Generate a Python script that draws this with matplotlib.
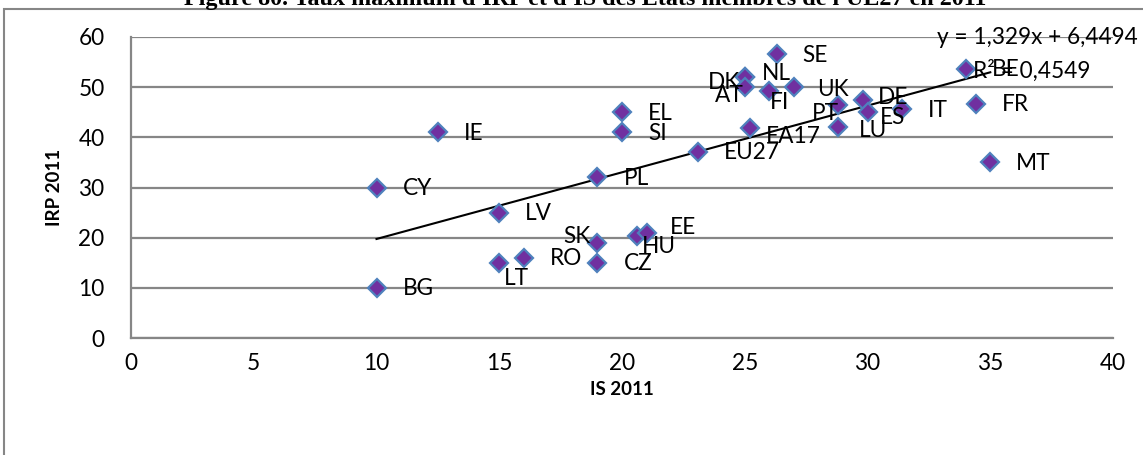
import numpy as np
from matplotlib import pyplot as plt
from matplotlib.patches import Rectangle

plt.rcParams['font.family'] = ['Lato', 'DejaVu Sans']

# data: maximum corporate rate (IS) and top personal income rate (IRP), 2011
countries = ['BG', 'CY', 'IE', 'LV', 'LT', 'RO', 'SK', 'CZ', 'PL', 'EL', 'SI',
             'HU', 'EE', 'EU27', 'EA17', 'DK', 'NL', 'AT', 'FI', 'SE', 'UK',
             'PT', 'LU', 'DE', 'ES', 'IT', 'BE', 'FR', 'MT']
is_2011 = [10, 10, 12.5, 15, 15, 16, 19, 19, 19, 20, 20,
           20.6, 21, 23.1, 25.2, 25, 25, 25, 26, 26.3, 27,
           28.8, 28.8, 29.8, 30, 31.4, 34, 34.4, 35]
irp_2011 = [10, 30, 41, 25, 15, 16, 19, 15, 32, 45, 41,
            20.3, 21, 37.1, 41.8, 52, 52, 50, 49.2, 56.6, 50,
            46.5, 42.1, 47.5, 45, 45.6, 53.7, 46.7, 35]

# linear trendline shown on the chart
slope = 1.329
intercept = 6.4494
r2 = 0.4549

# label offsets in pixels (dx to left edge, dy downwards); default right of point
default_offset = (26, 1)
label_offsets = {
    'LT': (5, 16), 'SK': (-34, -6), 'HU': (5, 10), 'EE': (23, -5),
    'EA17': (16, 8), 'DK': (-37, 5), 'NL': (17, -4), 'AT': (-30, 8),
    'FI': (1, 11), 'UK': (23, 2), 'PT': (-26, 9), 'DE': (15, -2),
    'ES': (12, 5), 'LU': (21, 4),
}

fs = 16.3

fig = plt.figure(figsize=(11.43, 4.55), dpi=100)
ax = fig.add_axes([0.1146, 0.2571, 0.8592, 0.6616])

# chart area frame
fig.patches.append(Rectangle((4 / 1143, -0.1), 1.2, 1 - 9 / 455 + 0.1,
                             transform=fig.transFigure, fill=False,
                             edgecolor='#868686', lw=1.5))

ax.set_xlim(0, 40)
ax.set_ylim(0, 60)
ax.set_xticks(np.arange(0, 41, 5))
ax.set_yticks(np.arange(0, 61, 10))
ax.grid(axis='y', color='#868686', lw=1.6)
ax.set_axisbelow(True)
for s in ['top', 'right']:
    ax.spines[s].set_visible(False)
for s in ['left', 'bottom']:
    ax.spines[s].set_color('#868686')
    ax.spines[s].set_linewidth(1.6)
ax.tick_params(length=0, labelsize=fs, pad=11)
ax.tick_params(axis='y', pad=19)

ax.plot(is_2011, irp_2011, 'D', color='#7030A0', markeredgecolor='#4F81BD',
        markersize=9, markeredgewidth=1.6, zorder=3, clip_on=False)

tx = np.array([min(is_2011), max(is_2011)])
ax.plot(tx, slope * tx + intercept, '-k', lw=1.5, zorder=2)

for c, x, y in zip(countries, is_2011, irp_2011):
    dx, dy = label_offsets.get(c, default_offset)
    ax.annotate(c, (x, y), xytext=(dx * 0.72, -dy * 0.72), textcoords='offset points',
                ha='left', va='center', fontsize=fs, zorder=4)

eq = 'y = ' + f'{slope:.3f}'.replace('.', ',') + 'x + ' + f'{intercept:.4f}'.replace('.', ',')
fig.text(1138 / 1143, 1 - 38 / 455, eq, ha='right', va='center', fontsize=fs)
fig.text(973 / 1143, 1 - 71 / 455, 'R² = ' + f'{r2:.4f}'.replace('.', ','),
         ha='left', va='center', fontsize=fs)

ax.set_xlabel('IS 2011', fontsize=13.5, fontweight='bold', labelpad=5)
ax.set_ylabel('IRP 2011', fontsize=13.5, fontweight='bold')
ax.yaxis.set_label_coords(-0.069, 0.5)

fig.text(0.512, 1 - 5 / 455,
         "Figure 80. Taux maximum d'IRP et d'IS des Etats membres de l'UE27 en 2011",
         ha='center', va='baseline', fontsize=17.4, fontweight='bold',
         family='Liberation Serif')

fig.savefig('out.png', dpi=100)
